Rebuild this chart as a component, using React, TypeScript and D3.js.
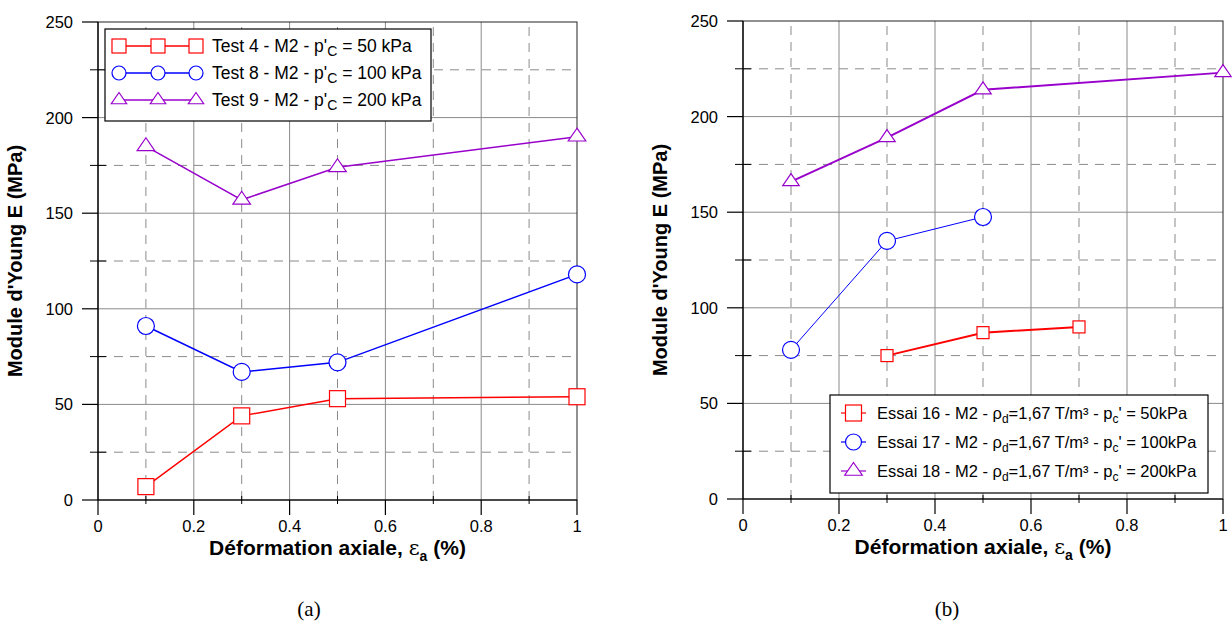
import React from "react";
import * as d3 from "d3";

// ---------- data ----------
const xTicksMajor = [0, 0.2, 0.4, 0.6, 0.8, 1];
const xTicksMinor = [0.1, 0.3, 0.5, 0.7, 0.9];
const yTicksMajor = [0, 50, 100, 150, 200, 250];
const yTicksMinor = [25, 75, 125, 175, 225];

const leftX = [0.1, 0.3, 0.5, 1];
const test4 = [7, 44, 53, 54];
const test8 = [91, 67, 72, 118];
const test9 = [185, 157, 174, 190];

const essai16X = [0.3, 0.5, 0.7];
const essai16 = [75, 87, 90];
const essai17X = [0.1, 0.3, 0.5];
const essai17 = [78, 135, 147.5];
const essai18X = [0.1, 0.3, 0.5, 1];
const essai18 = [166, 189, 214, 223];

const RED = "#ff0000";
const BLUE = "#0000ff";
const PURPLE = "#9900cc";
const GRID = "#8a8a8a";
const FONT = "'Liberation Sans', Arial, Helvetica, sans-serif";

type Shape = "square" | "circle" | "triangle";

function Marker({ shape, x, y, color, size, sw = 1.2 }: { shape: Shape; x: number; y: number; color: string; size: number; sw?: number }) {
  if (shape === "square")
    return <rect x={x - size / 2} y={y - size / 2} width={size} height={size} fill="white" stroke={color} strokeWidth={sw} />;
  if (shape === "circle") return <circle cx={x} cy={y} r={size / 2} fill="white" stroke={color} strokeWidth={sw} />;
  const w = size * 1.1;
  const h = size * 0.8;
  const pts = `${x},${y - (h * 2) / 3} ${x + w / 2},${y + h / 3} ${x - w / 2},${y + h / 3}`;
  return <polygon points={pts} fill="white" stroke={color} strokeWidth={sw} />;
}

type Series = { xs: number[]; ys: number[]; color: string; shape: Shape; lw: number; ms: number };

function Panel({ left, right, top, bottom, series }: { left: number; right: number; top: number; bottom: number; series: Series[] }) {
  const x = d3.scaleLinear().domain([0, 1]).range([left, right]);
  const y = d3.scaleLinear().domain([0, 250]).range([bottom, top]);
  const line = d3.line<[number, number]>().x((d) => x(d[0])).y((d) => y(d[1]));
  return (
    <g>
      {/* grid */}
      {xTicksMinor.map((t) => (
        <line key={"xm" + t} x1={x(t)} x2={x(t)} y1={bottom} y2={top} stroke={GRID} strokeWidth={1} strokeDasharray="9,7" />
      ))}
      {yTicksMinor.map((t) => (
        <line key={"ym" + t} x1={left} x2={right} y1={y(t)} y2={y(t)} stroke={GRID} strokeWidth={1} strokeDasharray="9,7" />
      ))}
      {xTicksMajor.slice(1, -1).map((t) => (
        <line key={"xM" + t} x1={x(t)} x2={x(t)} y1={bottom} y2={top} stroke={GRID} strokeWidth={1} />
      ))}
      {yTicksMajor.slice(1, -1).map((t) => (
        <line key={"yM" + t} x1={left} x2={right} y1={y(t)} y2={y(t)} stroke={GRID} strokeWidth={1} />
      ))}
      {/* frame */}
      <rect x={left} y={top} width={right - left} height={bottom - top} fill="none" stroke="#222" strokeWidth={1} />
      <line x1={left} x2={right} y1={bottom} y2={bottom} stroke="black" strokeWidth={1.2} />
      <line x1={left} x2={left} y1={top} y2={bottom} stroke="black" strokeWidth={1.2} />
      {/* ticks */}
      {xTicksMajor.map((t) => (
        <g key={"xt" + t}>
          <line x1={x(t)} x2={x(t)} y1={bottom} y2={bottom + 15} stroke="black" strokeWidth={1.2} />
          <text x={x(t)} y={bottom + 32} textAnchor="middle" fontSize={16.5} fontFamily={FONT}>
            {d3.format("~g")(t)}
          </text>
        </g>
      ))}
      {xTicksMinor.map((t) => (
        <line key={"xtm" + t} x1={x(t)} x2={x(t)} y1={bottom - 4} y2={bottom + 4} stroke="black" strokeWidth={1} />
      ))}
      {yTicksMajor.map((t) => (
        <g key={"yt" + t}>
          <line x1={left - 16} x2={left} y1={y(t)} y2={y(t)} stroke="black" strokeWidth={1.2} />
          <text x={left - 25} y={y(t) + 6} textAnchor="end" fontSize={16.5} fontFamily={FONT}>
            {t}
          </text>
        </g>
      ))}
      {yTicksMinor.map((t) => (
        <line key={"ytm" + t} x1={left - 8} x2={left + 8} y1={y(t)} y2={y(t)} stroke="black" strokeWidth={1} />
      ))}
      {/* series */}
      {series.map((s, i) => (
        <path key={"l" + i} d={line(s.xs.map((v, j) => [v, s.ys[j]]) as [number, number][]) || ""} fill="none" stroke={s.color} strokeWidth={s.lw} />
      ))}
      {series.map((s, i) =>
        s.xs.map((v, j) => <Marker key={"m" + i + "-" + j} shape={s.shape} x={x(v)} y={y(s.ys[j])} color={s.color} size={s.ms} />)
      )}
      {/* axis titles */}
      <text x={(left + right) / 2} y={bottom + 55} textAnchor="middle" fontSize={21} fontWeight="bold" fontFamily={FONT}>
        Déformation axiale,{" "}
        <tspan fontFamily="'DejaVu Serif', serif" fontWeight="normal">ε</tspan>
        <tspan dy={6} fontSize={14}>a</tspan>
        <tspan dy={-6}> (%)</tspan>
      </text>
      <text
        transform={`translate(${left - 76},${(top + bottom) / 2}) rotate(-90)`}
        textAnchor="middle"
        fontSize={20}
        fontWeight="bold"
        fontFamily={FONT}
      >
        Module d'Young E (MPa)
      </text>
    </g>
  );
}

const leftLegend = [
  { label: "Test 4 - M2 - p'", sub: "C", rest: " = 50 kPa", color: RED, shape: "square" as Shape },
  { label: "Test 8 - M2 - p'", sub: "C", rest: " = 100 kPa", color: BLUE, shape: "circle" as Shape },
  { label: "Test 9 - M2 - p'", sub: "C", rest: " = 200 kPa", color: PURPLE, shape: "triangle" as Shape },
];
const rightLegend = [
  { id: "16", p: "50kPa", color: RED, shape: "square" as Shape },
  { id: "17", p: "100kPa", color: BLUE, shape: "circle" as Shape },
  { id: "18", p: "200kPa", color: PURPLE, shape: "triangle" as Shape },
];

export default function App() {
  return (
    <svg width={1232} height={624} style={{ position: "absolute", left: 0, top: 0, background: "white" }}>
      <rect width={1232} height={624} fill="white" />
      <Panel
        left={98}
        right={577}
        top={22}
        bottom={500}
        series={[
          { xs: leftX, ys: test4, color: RED, shape: "square", lw: 1.5, ms: 16 },
          { xs: leftX, ys: test8, color: BLUE, shape: "circle", lw: 1.5, ms: 17 },
          { xs: leftX, ys: test9, color: PURPLE, shape: "triangle", lw: 1.5, ms: 16 },
        ]}
      />
      <Panel
        left={743}
        right={1223}
        top={21}
        bottom={499}
        series={[
          { xs: essai16X, ys: essai16, color: RED, shape: "square", lw: 2, ms: 12 },
          { xs: essai17X, ys: essai17, color: BLUE, shape: "circle", lw: 1, ms: 17 },
          { xs: essai18X, ys: essai18, color: PURPLE, shape: "triangle", lw: 2, ms: 15 },
        ]}
      />
      {/* left legend */}
      <rect x={105} y={29} width={326} height={92} fill="white" stroke="black" strokeWidth={1.2} />
      {leftLegend.map((d, i) => {
        const cy = 46 + i * 27;
        return (
          <g key={"ll" + i}>
            <line x1={119} x2={196} y1={cy} y2={cy} stroke={d.color} strokeWidth={1.5} />
            {[119, 158, 196].map((mx) => (
              <Marker key={mx} shape={d.shape} x={mx} y={cy} color={d.color} size={14} />
            ))}
            <text x={212} y={cy + 6} fontSize={17.5} fontFamily={FONT}>
              {d.label}
              <tspan dy={4} fontSize={14}>{d.sub}</tspan>
              <tspan dy={-4}>{d.rest}</tspan>
            </text>
          </g>
        );
      })}
      {/* right legend */}
      <rect x={830} y={395} width={378} height={98} fill="white" stroke="black" strokeWidth={1.2} />
      {rightLegend.map((d, i) => {
        const cy = 413 + i * 29;
        return (
          <g key={"rl" + i}>
            <line x1={841} x2={866} y1={cy} y2={cy} stroke={d.color} strokeWidth={1.2} />
            <Marker shape={d.shape} x={853.5} y={cy} color={d.color} size={16} />
            <text x={877} y={cy + 6} fontSize={16.5} fontFamily={FONT}>
              {"Essai " + d.id + " - M2 - ρ"}
              <tspan dy={4} fontSize={12}>d</tspan>
              <tspan dy={-4}>{"=1,67 T/m³ - p"}</tspan>
              <tspan dy={4} fontSize={12}>c</tspan>
              <tspan dy={-4}>{"' = " + d.p}</tspan>
            </text>
          </g>
        );
      })}
      <text x={309} y={616} textAnchor="middle" fontSize={21} fontFamily="'Liberation Serif', 'Times New Roman', serif">
        (a)
      </text>
      <text x={947} y={616} textAnchor="middle" fontSize={21} fontFamily="'Liberation Serif', 'Times New Roman', serif">
        (b)
      </text>
    </svg>
  );
}
